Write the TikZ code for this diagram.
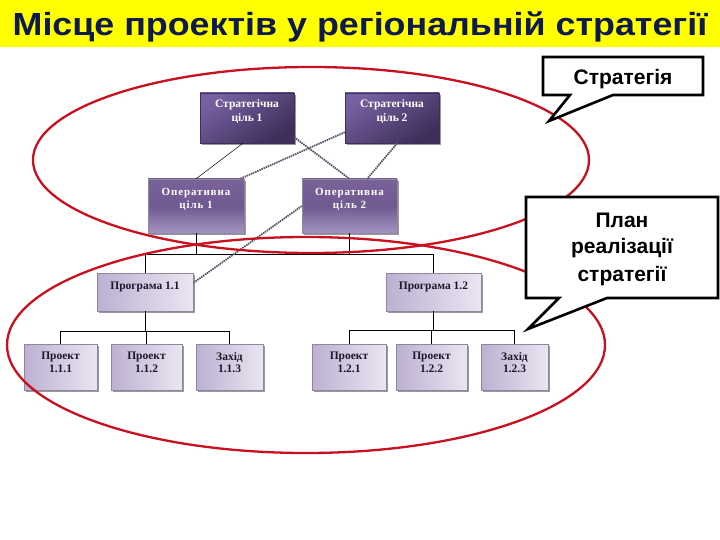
\documentclass[tikz,border=0pt]{standalone}
\usepackage{fontspec}
\setmainfont{Liberation Serif}
\newfontfamily\sansb{Liberation Sans}
\newfontfamily\titlefont[FakeStretch=1.12]{Liberation Sans}
\newfontfamily\serifsp[LetterSpace=8]{Liberation Serif}
\usetikzlibrary{shadows,calc}
\definecolor{ttl}{HTML}{0E1A4E}
\definecolor{ylw}{HTML}{FFFF00}
\definecolor{stratA}{HTML}{7760A0}
\definecolor{stratB}{HTML}{3E2E5A}
\definecolor{operA}{HTML}{7A6399}
\definecolor{operM}{HTML}{6F5991}
\definecolor{operB}{HTML}{A393C0}
\definecolor{lavA}{HTML}{BDB0D2}
\definecolor{lavB}{HTML}{EAE5F1}
\definecolor{boxline}{HTML}{8F86A0}
\definecolor{ellred}{HTML}{C8101E}
\definecolor{dashc}{HTML}{55556A}
\definecolor{txtd}{HTML}{1A1A28}
\begin{document}
\begin{tikzpicture}[x=1pt,y=-1pt,
  shadowed/.style={drop shadow={shadow xshift=2pt,shadow yshift=-2pt,fill=black!40,opacity=1}},
  stratbox/.style={shadowed, draw=stratB, line width=0.4pt, top color=stratA, bottom color=stratB, shading angle=35, minimum width=94pt, minimum height=50pt, inner sep=0pt},
  operbox/.style={shadowed, draw=boxline, line width=0.4pt, top color=operA, bottom color=operB, middle color=operM, minimum height=54pt, inner sep=0pt},
  lavbox/.style={shadowed, draw=boxline, line width=0.4pt, left color=lavA, right color=lavB, inner sep=0pt},
  progbox/.style={lavbox, minimum width=96pt, minimum height=38pt},
  projbox/.style={lavbox, minimum height=46pt},
  wtxt/.style={text=white, font=\bfseries\fontsize{11.5}{14}\selectfont, align=center, inner sep=0pt},
  otxt/.style={text=white, font=\serifsp\bfseries\fontsize{11}{13}\selectfont, align=center, inner sep=0pt},
  dtxt/.style={text=txtd, font=\bfseries\fontsize{11.5}{12.5}\selectfont, align=center, inner sep=0pt},
  conn/.style={draw=black, line width=0.9pt},
  thinconn/.style={draw=black, line width=0.5pt},
  dashline/.style={draw=dashc, line width=1.8pt, dash pattern=on 1.5pt off 0.8pt},
  redell/.style={draw=ellred, line width=2.3pt},
  callout/.style={draw=black, fill=white, line width=2.6pt, miter limit=10},
  calltxt/.style={font=\sansb\bfseries\fontsize{21}{27}\selectfont, text=black, inner sep=0pt, anchor=base}
]
\useasboundingbox (0,0) rectangle (720,540);
\fill[white] (0,0) rectangle (720,540);
% title bar
\fill[ylw] (0,0) rectangle (720,47);
\node[font=\titlefont\bfseries\fontsize{32}{38}\selectfont, text=ttl, anchor=base, inner sep=0pt] (title) at (360,36) {Місце проектів у регіональній стратегії};

% boxes
\node[stratbox] (s1) at (247,118) {};
\node[stratbox] (s2) at (392,118) {};
\node[operbox, minimum width=96pt] (o1) at (196,206) {};
\node[operbox, minimum width=95pt] (o2) at (349.5,206) {};
\node[progbox] (p11) at (145,292) {};
\node[progbox, minimum width=95pt] (p12) at (433.5,292) {};
\node[projbox, minimum width=73pt] (a1) at (60.5,367) {};
\node[projbox, minimum width=71pt] (a2) at (146.5,367) {};
\node[projbox, minimum width=67pt] (a3) at (229.5,367) {};
\node[projbox, minimum width=74pt] (b1) at (349,367) {};
\node[projbox, minimum width=71pt] (b2) at (431.5,367) {};
\node[projbox, minimum width=67pt] (b3) at (514.5,367) {};

% texts
\node[wtxt] (s1t) at ([yshift=6.5pt]s1.center) {Стратегічна\\ціль 1};
\node[wtxt] (s2t) at ([yshift=6.5pt]s2.center) {Стратегічна\\ціль 2};
\node[otxt] (o1t) at ([yshift=7pt]o1.center) {Оперативна\\ціль 1};
\node[otxt] (o2t) at ([yshift=7pt]o2.center) {Оперативна\\ціль 2};
\node[dtxt] (p11t) at ([yshift=5pt]p11.center) {Програма 1.1};
\node[dtxt] (p12t) at ([yshift=5pt]p12.center) {Програма 1.2};
\node[dtxt] (a1t) at ([yshift=4.5pt]a1.center) {Проект\\1.1.1};
\node[dtxt] (a2t) at ([yshift=4.5pt]a2.center) {Проект\\1.1.2};
\node[dtxt] (a3t) at ([yshift=4.5pt]a3.center) {Захід\\1.1.3};
\node[dtxt] (b1t) at ([yshift=4.5pt]b1.center) {Проект\\1.2.1};
\node[dtxt] (b2t) at ([yshift=4.5pt]b2.center) {Проект\\1.2.2};
\node[dtxt] (b3t) at ([yshift=4.5pt]b3.center) {Захід\\1.2.3};

% tree connectors
\coordinate (bus1) at (0,254);
\coordinate (bus2) at (0,331);
\coordinate (bus3) at (0,330);
\draw[conn] (o1.south) -- (o1.south |- bus1);
\draw[conn] (o2.south) -- (o2.south |- bus1);
\draw[conn] (p11.north) |- (p12.north |- bus1) -- (p12.north);
\draw[conn] (p11.south) -- (p11.south |- bus2);
\draw[conn] (a1.north) |- (a3.north |- bus2) -- (a3.north);
\draw[conn] (a2.north) -- (a2.north |- bus2);
\draw[conn] (p12.south) -- (p12.south |- bus3);
\draw[conn] (b1.north) |- (b3.north |- bus3) -- (b3.north);
\draw[conn] (b2.north) -- (b2.north |- bus3);

% strategy links
\draw[thinconn] ([xshift=-4pt]s1.south) -- (o1.north);
\draw[dashline] ([yshift=6pt]s1.south east) -- (o2.north);
\draw[dashline] ([yshift=11pt]s2.south west) -- ([xshift=-4pt]o1.north east);
\draw[dashline] ([xshift=-42pt]s2.south east) -- ([xshift=-30pt]o2.north east);
\draw[dashline] (o2.west) -- ([yshift=9pt]p11.east);

% red ellipses
\draw[redell] (311,160) ellipse [x radius=278, y radius=93];
\draw[redell] (306,345) ellipse [x radius=299, y radius=108];

% callouts
\draw[callout] (543,57) -- (703,57) -- (703,95) -- (613,95) -- (549,121) -- (570,95) -- (543,95) -- cycle;
\node[calltxt] (c1) at (623,85) {Стратегія};
\draw[callout] (526,197) -- (718,197) -- (718,298) -- (607,298) -- (528,329) -- (559,298) -- (526,298) -- cycle;
\node[calltxt] (c2a) at (622,227) {План};
\node[calltxt] (c2b) at (622,254) {реалізації};
\node[calltxt] (c2c) at (622,281) {стратегії};
\end{tikzpicture}
\end{document}
